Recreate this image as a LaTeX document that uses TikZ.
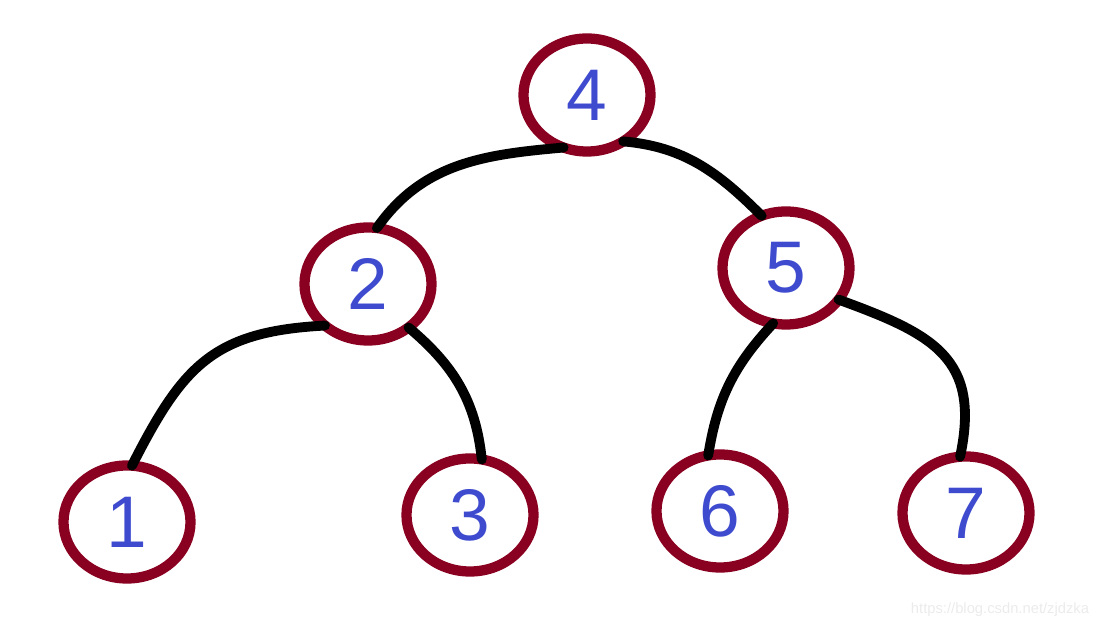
\documentclass[tikz,border=0pt]{standalone}
\usepackage{fontspec}
\setmainfont{Liberation Sans}
\usetikzlibrary{shapes.geometric}
\definecolor{ringred}{HTML}{8A0020}
\definecolor{digitblue}{HTML}{3F4BCF}
\begin{document}
\begin{tikzpicture}[x=0.025cm, y=0.025cm,
  key/.style={ellipse, draw=ringred, line width=7.3pt, minimum width=3.175cm, minimum height=2.825cm, inner sep=0pt, outer sep=0pt, text=digitblue, font=\fontsize{52}{52}\selectfont},
  edge/.style={line width=7pt, line cap=round}]
  \useasboundingbox (0, 0) rectangle (1104, 630);
  \node[key] (N4) at (587, 535) {4};
  \node[key] (N2) at (368, 346) {2};
  \node[key] (N5) at (786, 362) {5};
  \node[key] (N1) at (127, 108) {1};
  \node[key] (N3) at (470, 115) {3};
  \node[key] (N6) at (720, 119) {6};
  \node[key] (N7) at (966, 117) {7};
  \draw[edge] (N4.246) to[out=185, in=55] (N2.81);
  \draw[edge] (N4.308) to[out=-5, in=135] (N5.115);
  \draw[edge] (N2.224) to[out=183, in=63, looseness=1.2] (N1.85);
  \draw[edge] (N2.313) to[out=-40, in=96] (N3.78);
  \draw[edge] (N5.257) to[out=227, in=81] (N6.102);
  \draw[edge] (N5.329) to[out=-20, in=78, looseness=1.3] (N7.96);
  \node[text=black!8, font=\fontsize{10.5}{12}\selectfont] (URL) at (1000, 20) {https://blog.csdn.net/zjdzka};
\end{tikzpicture}
\end{document}
